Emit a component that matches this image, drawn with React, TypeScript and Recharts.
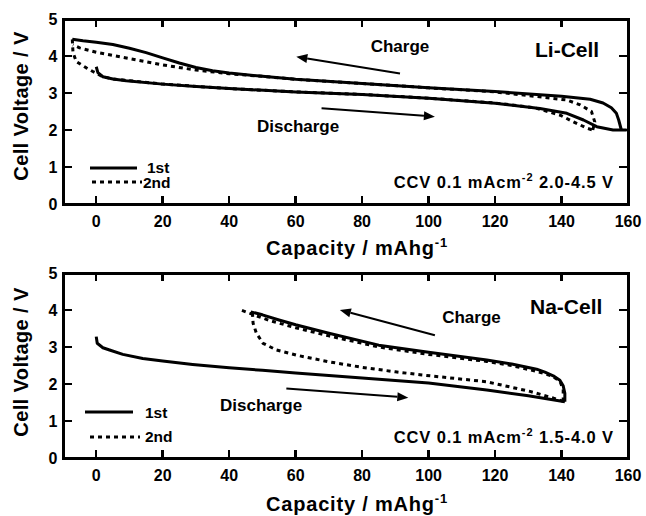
import React from 'react';
import { LineChart, Line, XAxis, YAxis, ReferenceLine } from 'recharts';

const FONT = "'Liberation Sans', Arial, Helvetica, sans-serif";

// capacity (mAh/g), voltage (V)
const liCharge1 = [
  [158, 2.0], [157.2, 2.27], [156.5, 2.45], [155, 2.6], [152.5, 2.73], [148.6, 2.83], [140, 2.91],
  [120, 3.04], [100, 3.14], [80, 3.26], [60, 3.37], [50, 3.45], [40, 3.54], [35, 3.6], [30, 3.69],
  [25, 3.81], [20, 3.95], [15, 4.09], [10, 4.21], [5, 4.31], [0, 4.37], [-4, 4.41], [-7.2, 4.45],
];
const liDischarge1 = [
  [0, 3.71], [0.5, 3.55], [2, 3.44], [5, 3.38], [9, 3.33], [20, 3.24], [29, 3.18], [40, 3.12],
  [49, 3.08], [60, 3.03], [80, 2.96], [100, 2.86], [120, 2.72], [133.5, 2.58], [141.6, 2.45],
  [146.6, 2.27], [150.6, 2.09], [155.5, 2.0], [159.6, 2.0],
];
const liCharge2 = [
  [149.4, 2.0], [150, 2.22], [149, 2.5], [145.6, 2.68], [141.6, 2.81], [135, 2.88], [120, 3.03],
  [100, 3.14], [80, 3.26], [60, 3.37], [50, 3.45], [40, 3.52], [30, 3.62], [20, 3.76],
  [10, 3.93], [0, 4.1], [-5, 4.22], [-7, 4.3],
];
const liDischarge2 = [
  [-7.2, 4.45], [-7, 4.1], [-6, 3.85], [-3, 3.68], [-1, 3.58], [2, 3.44], [5, 3.38], [20, 3.24],
  [40, 3.12], [60, 3.03], [80, 2.96], [100, 2.86], [120, 2.73], [132, 2.6], [139.6, 2.4],
  [143.6, 2.22], [147.6, 2.05], [149.4, 2.0],
];

const naCharge1 = [
  [141, 1.52], [141, 1.75], [140.5, 1.95], [139.5, 2.1], [137.5, 2.22], [135, 2.32], [132.5, 2.4],
  [125, 2.54], [117.5, 2.65], [100, 2.86], [85, 3.05], [70, 3.37], [60, 3.6], [55, 3.73],
  [50, 3.87], [46.5, 3.95],
];
const naDischarge1 = [
  [0, 3.28], [0.3, 3.1], [2, 2.98], [4, 2.92], [8, 2.8], [14, 2.69], [20, 2.62], [29, 2.53],
  [40, 2.44], [50, 2.37], [60, 2.3], [80, 2.16], [100, 2.03], [117.5, 1.84], [130, 1.68], [141, 1.52],
];
const naCharge2 = [
  [140.5, 1.53], [140.5, 1.85], [139.5, 2.08], [137, 2.22], [133, 2.33], [125, 2.5], [117.5, 2.61],
  [100, 2.8], [85, 3.0], [70, 3.3], [60, 3.52], [52, 3.72], [48, 3.85], [43.5, 4.0],
];
const naDischarge2 = [
  [47, 3.92], [47.2, 3.64], [48.2, 3.37], [50.2, 3.1], [54.2, 2.92], [60.2, 2.78], [70, 2.6],
  [80, 2.45], [90, 2.33], [97.4, 2.25], [117.5, 2.06], [130.5, 1.8], [137.5, 1.62], [140.5, 1.53],
];

// arrows: [from, to] in data units
const liArrows = [
  [[91.4, 3.53], [60.2, 3.98]],
  [[67.8, 2.59], [101.9, 2.36]],
];
const naArrows = [
  [[101.9, 3.32], [73.3, 4.0]],
  [[57.2, 1.88], [93.9, 1.63]],
];

const xTicks = [0, 20, 40, 60, 80, 100, 120, 140, 160];
const yTicks = [0, 1, 2, 3, 4, 5];
const xDomain = [-10, 160];
const yDomain = [0, 5];

// layout shared by the charts and the frame
const W = 646;
const PANEL_H = 258;
const PLOT_L = 63;
const PLOT_R = 18;
const PLOT_H = 185;
const panels = [
  { offset: 0, top: 19 },
  { offset: 258, top: 15 },
];

const toPts = (a: number[][]) => a.map(([c, v]) => ({ c, v }));

const XLabel = (props: any) => {
  const { x, y, payload } = props;
  return (
    <text x={x} y={y + 23} textAnchor="middle" fontFamily={FONT} fontWeight="bold" fontSize={16} fill="#000">
      {payload.value}
    </text>
  );
};

const YLabel = (props: any) => {
  const { x, y, payload } = props;
  return (
    <text x={x - 5.5} y={y + 6} textAnchor="end" fontFamily={FONT} fontWeight="bold" fontSize={16} fill="#000">
      {payload.value}
    </text>
  );
};

const arrowShape = (p: any) => {
  const { x1, y1, x2, y2 } = p;
  const a = Math.atan2(y2 - y1, x2 - x1);
  const L = 11, Wd = 4.5;
  const bx = x2 - L * Math.cos(a), by = y2 - L * Math.sin(a);
  const head = `${x2},${y2} ${bx - Wd * Math.sin(a)},${by + Wd * Math.cos(a)} ${bx + Wd * Math.sin(a)},${by - Wd * Math.cos(a)}`;
  return (
    <g>
      <line x1={x1} y1={y1} x2={bx} y2={by} stroke="#000" strokeWidth={2} />
      <polygon points={head} fill="#000" />
    </g>
  );
};

const seg = (a: number[][]) => [{ x: a[0][0], y: a[0][1] }, { x: a[1][0], y: a[1][1] }];

function Panel({ series, arrows, top }: any) {
  return (
    <LineChart width={W} height={PANEL_H} margin={{ top, right: PLOT_R, bottom: 0, left: 0 }}>
      <XAxis xAxisId="b" dataKey="c" type="number" domain={xDomain} ticks={xTicks} allowDataOverflow
        height={PANEL_H - top - PLOT_H} tickSize={0} tickMargin={0} tickLine={false} axisLine={false}
        tick={<XLabel />} interval={0} />
      <YAxis yAxisId="l" type="number" domain={yDomain} ticks={yTicks} allowDataOverflow width={PLOT_L}
        tickSize={0} tickMargin={0} tickLine={false} axisLine={false} tick={<YLabel />} interval={0} />
      {series.map((s: any, i: number) => (
        <Line key={i} xAxisId="b" yAxisId="l" data={toPts(s.d)} dataKey="v" type="linear" stroke="#000"
          strokeWidth={3} strokeDasharray={s.dash ? '4 4' : undefined} dot={false} activeDot={false}
          strokeLinejoin="round" isAnimationActive={false} />
      ))}
      {arrows.map((a: number[][], i: number) => (
        <ReferenceLine key={'a' + i} xAxisId="b" yAxisId="l" ifOverflow="visible" segment={seg(a)} shape={arrowShape} />
      ))}
    </LineChart>
  );
}

// plot frame with inward ticks on all four sides, as plain boxes
function Frame({ offset, top }: any) {
  const l = PLOT_L, r = W - PLOT_R, t = offset + top, b = t + PLOT_H;
  const sx = (v: number) => l + ((v - xDomain[0]) / (xDomain[1] - xDomain[0])) * (r - l);
  const sy = (v: number) => b - ((v - yDomain[0]) / (yDomain[1] - yDomain[0])) * (b - t);
  const box = (x: number, y: number, w: number, h: number, key: string) => (
    <div key={key} style={{ position: 'absolute', left: x, top: y, width: w, height: h, background: '#000' }} />
  );
  const out: any[] = [];
  out.push(box(l - 1.5, t - 1.5, r - l + 3, 3, 'ft'));
  out.push(box(l - 1.5, b - 1.5, r - l + 3, 3, 'fb'));
  out.push(box(l - 1.5, t - 1.5, 3, b - t + 3, 'fl'));
  out.push(box(r - 1.5, t - 1.5, 3, b - t + 3, 'fr'));
  xTicks.forEach((v) => {
    out.push(box(sx(v) - 1.25, b - 8, 2.5, 8, 'xb' + v));
    out.push(box(sx(v) - 1.25, t, 2.5, 8, 'xt' + v));
  });
  yTicks.forEach((v) => {
    out.push(box(l, sy(v) - 1.25, 9, 2.5, 'yl' + v));
    out.push(box(r - 9, sy(v) - 1.25, 9, 2.5, 'yr' + v));
  });
  return <>{out}</>;
}

const T = (p: any) => <text fontFamily={FONT} fontWeight="bold" fill="#000" {...p} />;

function Overlay() {
  const block = (dy: number, cellName: string, ccv: string, ccvY: number, charge: number[], discharge: number[], cell: number[], leg: any) => (
    <g>
      <T x={charge[0]} y={charge[1] + dy} fontSize={17} textAnchor="middle">Charge</T>
      <T x={discharge[0]} y={discharge[1] + dy} fontSize={17}>Discharge</T>
      <T x={cell[0]} y={cell[1] + dy} fontSize={21}>{cellName}</T>
      <T x={614} y={ccvY} fontSize={16.5} textAnchor="end" letterSpacing={0.9}>
        CCV 0.1 mAcm<tspan dy={-7} fontSize={11}>-2</tspan><tspan dy={7}> {ccv}</tspan>
      </T>
      <line x1={leg.s[0]} x2={leg.s[1]} y1={leg.s[2]} y2={leg.s[2]} stroke="#000" strokeWidth={3} />
      <line x1={leg.d[0]} x2={leg.d[1]} y1={leg.d[2]} y2={leg.d[2]} stroke="#000" strokeWidth={3} strokeDasharray="4 4" />
      <T x={leg.t1[0]} y={leg.t1[1]} fontSize={15.5}>1st</T>
      <T x={leg.t2[0]} y={leg.t2[1]} fontSize={15.5}>2nd</T>
    </g>
  );
  const title = (base: number, cy: number) => (
    <g>
      <T x={357} y={base} fontSize={20} textAnchor="middle" letterSpacing={0.8}>
        Capacity / mAhg<tspan dy={-8} fontSize={13}>-1</tspan>
      </T>
      <T x={0} y={0} fontSize={20} textAnchor="middle" letterSpacing={0.4} transform={`translate(27.5 ${cy}) rotate(-90)`}>
        Cell Voltage / V
      </T>
    </g>
  );
  return (
    <svg width={W} height={516} style={{ position: 'absolute', left: 0, top: 0, pointerEvents: 'none' }}>
      {block(0, 'Li-Cell', '2.0-4.5 V', 188, [400, 52], [257, 132], [535, 57],
        { s: [90, 137, 168], d: [92, 142, 182], t1: [147, 173], t2: [143, 188] })}
      {block(255, 'Na-Cell', '1.5-4.0 V', 443, [471.5, 68], [220, 156], [530, 59],
        { s: [85, 133, 412], d: [90, 140, 437], t1: [145, 418], t2: [145, 442] })}
      {title(255, 106)}
      {title(511, 362)}
    </svg>
  );
}

export default function App() {
  const li = [
    { d: liCharge1 }, { d: liDischarge1 }, { d: liCharge2, dash: true }, { d: liDischarge2, dash: true },
  ];
  const na = [
    { d: naCharge1 }, { d: naDischarge1 }, { d: naCharge2, dash: true }, { d: naDischarge2, dash: true },
  ];
  return (
    <div style={{ position: 'absolute', left: 0, top: 0, width: W, height: 516, background: '#fff' }}>
      <div style={{ position: 'absolute', left: 0, top: panels[0].offset }}>
        <Panel series={li} arrows={liArrows} top={panels[0].top} />
      </div>
      <div style={{ position: 'absolute', left: 0, top: panels[1].offset }}>
        <Panel series={na} arrows={naArrows} top={panels[1].top} />
      </div>
      <Overlay />
      {panels.map((p, i) => <Frame key={i} offset={p.offset} top={p.top} />)}
    </div>
  );
}
